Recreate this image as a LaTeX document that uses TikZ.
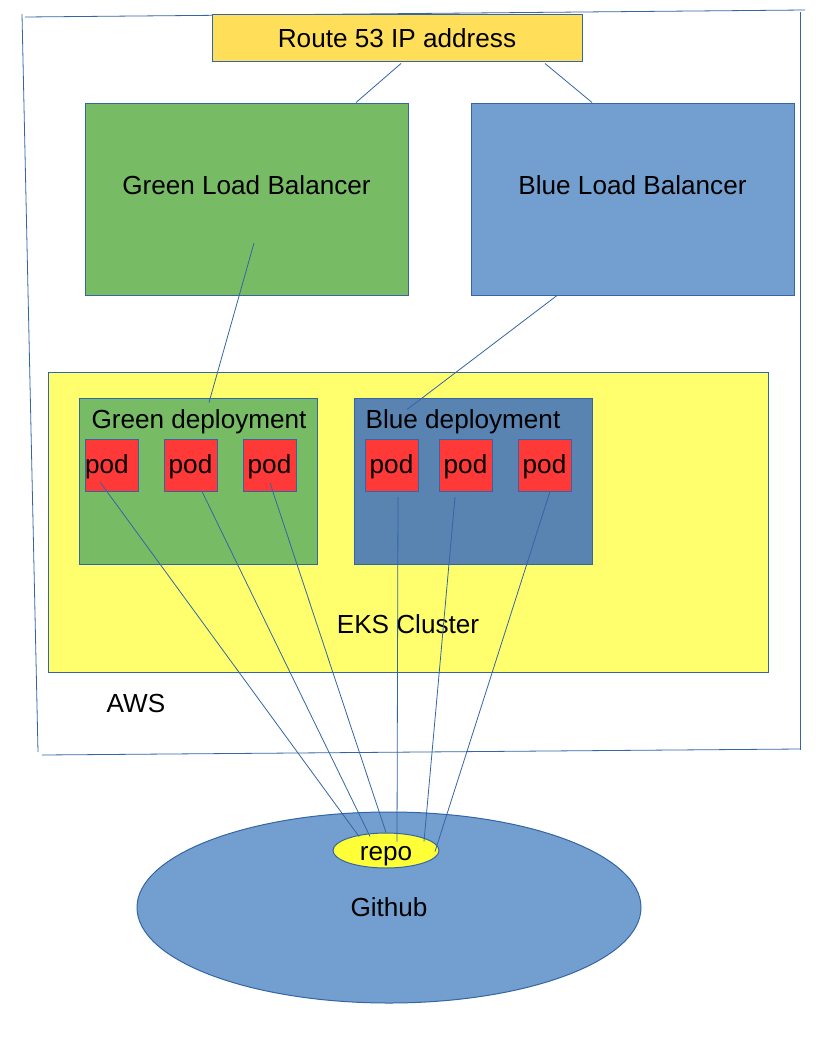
\documentclass[tikz,border=0pt]{standalone}
\usepackage{fontspec}
\setmainfont{Liberation Sans}
\usetikzlibrary{shapes,positioning}
\definecolor{edgeblue}{HTML}{3465A4}
\definecolor{routegold}{HTML}{FFDE59}
\definecolor{lbgreen}{HTML}{77BC65}
\definecolor{lbblue}{HTML}{729FCF}
\definecolor{eksyellow}{HTML}{FFFF6D}
\definecolor{depblue}{HTML}{5983B0}
\definecolor{podred}{HTML}{FF3838}
\definecolor{repoyellow}{HTML}{FFFF38}
\tikzstyle{block} = [rectangle, draw=edgeblue, line width=0.75pt, inner sep=0pt]
\tikzstyle{balancer} = [block, minimum width=242.25pt, minimum height=144pt]
\tikzstyle{deploy} = [block, minimum width=178.5pt, minimum height=124.5pt]
\tikzstyle{pod} = [block, fill=podred, minimum width=39.75pt, minimum height=39pt,
    text height=13pt, text depth=0pt]
\tikzstyle{line} = [draw=edgeblue, line width=0.6pt]

\begin{document}
\begin{tikzpicture}[x=0.75pt, y=-0.75pt, font=\fontsize{19.6}{23.5}\selectfont]
    \useasboundingbox (0,0) rectangle (816,1056);
    % AWS frame
    \path [line] (25,17) -- (805,10);
    \path [line] (800,12) -- (800,750);
    \path [line] (42,755) -- (800,749);
    \path [line] (22,14) -- (38,752);
    \node (aws) at (136,703) {AWS};
    % Place nodes
    \node [block, fill=routegold, minimum width=277.5pt, minimum height=35.25pt] (route) at (397,38.5) {Route 53 IP address};
    \node [balancer, fill=lbgreen] (glb) at (246.5,199) {};
    \node [balancer, fill=lbblue] (blb) at (632.5,199) {};
    \node (glbtext) at ([shift={(0,-14)}]glb.center) {Green Load Balancer};
    \node (blbtext) at ([shift={(0,-14)}]blb.center) {Blue Load Balancer};
    \node [block, fill=eksyellow, minimum width=540pt, minimum height=225pt] (eks) at (408,522) {};
    \node (ekstext) at ([shift={(0,-48)}]eks.south) {EKS Cluster};
    \node [deploy, fill=lbgreen] (gdep) at (198,481) {};
    \node [deploy, fill=depblue] (bdep) at (473,481) {};
    \node [text depth=0pt] (gdeptext) at ([shift={(1,21.5)}]gdep.north) {Green deployment};
    \node [text depth=0pt] (bdeptext) at ([shift={(-10,21.5)}]bdep.north) {Blue deployment};
    \node [pod, text width=39.75pt, align=left] (gp1) at (111.5,465) {pod};
    \node [pod] (gp2) at (190.5,465) {pod};
    \node [pod] (gp3) at (269.5,465) {pod};
    \node [pod] (bp1) at (391.5,465) {pod};
    \node [pod] (bp2) at (465.5,465) {pod};
    \node [pod] (bp3) at (544.5,465) {pod};
    \node [ellipse, draw=edgeblue, line width=0.75pt, fill=lbblue, minimum width=378pt, minimum height=143.25pt] (github) at (389,907.5) {Github};
    \node [ellipse, draw=edgeblue, line width=0.75pt, fill=repoyellow, inner sep=0pt, minimum width=79.5pt, minimum height=26.25pt, text height=15pt, text depth=0pt] (repo) at (386,850.5) {repo};
    % Draw edges
    \path [line] ([shift={(4,1)}]route.south) -- ([shift={(109.5,0)}]glb.north);
    \path [line] ([shift={(148,1)}]route.south) -- ([shift={(-40.5,0)}]blb.north);
    \path [line] ([shift={(7.5,44)}]glb.center) -- ([shift={(11,5)}]gdep.north);
    \path [line] ([shift={(-75.5,0)}]blb.south) -- ([shift={(-66,12)}]bdep.north);
    \path [line] ([shift={(-11.5,17)}]gp1.center) -- ([shift={(-27,-14)}]repo.center);
    \path [line] ([shift={(11.5,0)}]gp2.south) -- ([shift={(-16,-14)}]repo.center);
    \path [line] ([shift={(0.5,18)}]gp3.center) -- ([shift={(0,-18)}]repo.center);
    \path [line] ([shift={(6.5,32)}]bp1.center) -- ([shift={(11,-9)}]repo.center);
    \path [line] ([shift={(-10.5,32)}]bp2.center) -- ([shift={(38,-9)}]repo.center);
    \path [line] ([shift={(5.5,0)}]bp3.south) -- ([shift={(49,1)}]repo.center);
\end{tikzpicture}
\end{document}
